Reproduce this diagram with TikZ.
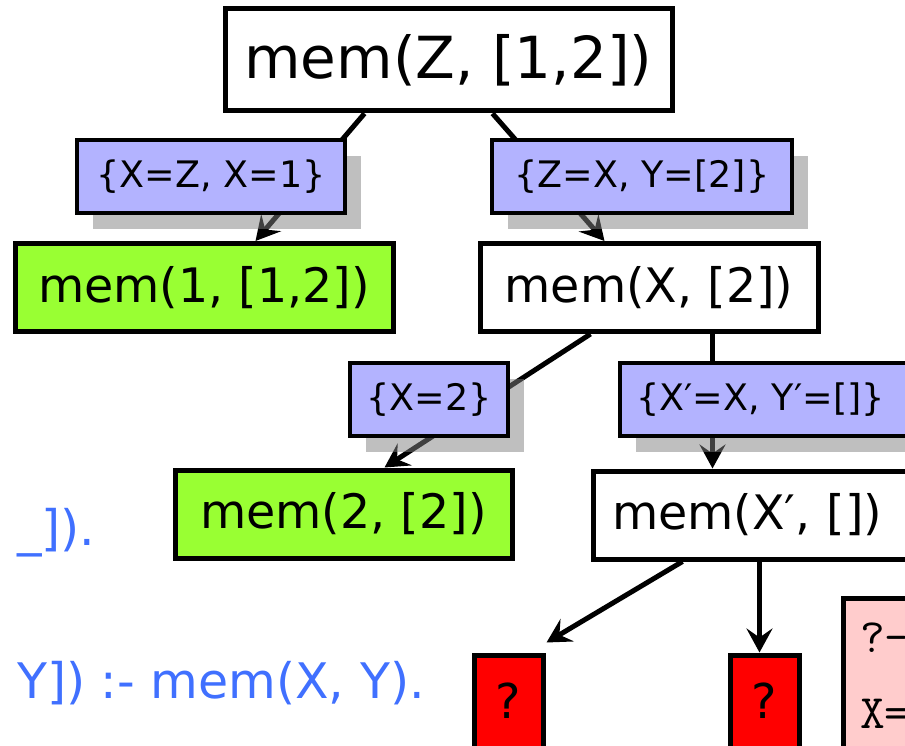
\documentclass[tikz,border=0pt]{standalone}
\usepackage{fontspec}
\setmainfont{DejaVu Sans}
\usetikzlibrary{arrows.meta, calc, shadows}
\definecolor{substBlue}{HTML}{B3B3FF}
\definecolor{solvedGreen}{HTML}{99FF33}
\definecolor{failRed}{HTML}{FF0000}
\definecolor{queryPink}{HTML}{FFCCCC}
\definecolor{clauseBlue}{HTML}{4070FF}

\begin{document}
\begin{tikzpicture}[
  x=1pt, y=-1pt,
  >={Stealth[length=24pt, width=26pt, inset=9pt]},
  goal/.style={draw=black, line width=5pt, fill=white, inner sep=0pt,
               minimum height=88pt, font=\fontsize{47.5}{56}\selectfont},
  solved/.style={goal, fill=solvedGreen},
  failed/.style={goal, fill=failRed, anchor=north, minimum width=69pt,
                 text height=63pt, text depth=45pt, font=\fontsize{48}{55}\selectfont},
  subst/.style={draw=black, line width=4.5pt, fill=substBlue, inner sep=0pt,
                minimum height=73pt, font=\fontsize{36.5}{42}\selectfont,
                drop shadow={shadow xshift=16pt, shadow yshift=-16pt}},
  query/.style={draw=black, line width=5pt, fill=queryPink, anchor=north west,
                minimum width=100pt, minimum height=200pt},
  code/.style={anchor=base west, inner sep=0pt, font=\ttfamily\fontsize{48}{55}\selectfont},
  clause/.style={anchor=base west, inner sep=0pt, text=clauseBlue,
                 font=\fontsize{49}{58}\selectfont},
  link/.style={->, line width=5pt}
]
\useasboundingbox (0,0) rectangle (905,746);
\clip (0,0) rectangle (905,746);

% program clauses, partly hidden on the left
\node[clause] (factTail) at (17,545) {\_]).};
\node[clause] (ruleTail) at (17,698) {Y]) :- mem(X, Y).};

% goals
\node[goal, minimum width=447pt, minimum height=102pt,
      font=\fontsize{58}{68}\selectfont] (memZ) at (448.5,60) {mem(Z, [1,2])};
\node[solved, minimum width=378pt] (memOne) at (204,287.5) {mem(1, [1,2])};
\node[goal, minimum width=338pt] (memX) at (649,287.5) {mem(X, [2])};
\node[solved, minimum width=337pt] (memTwo) at (343.5,514) {mem(2, [2])};
\node[goal, text width=290pt, align=left, inner xsep=19pt] (memXp) at (757,515) {mem(X′, [])};
\node[failed] (failOne) at (508.5,652.5) {?};
\node[failed] (failTwo) at (764.5,652.5) {?};

% the query window
\node[query] (query) at (840.5,595.5) {};
\node[code] (queryLine) at (860,652) {?-};
\node[code] (answerLine) at (860,728) {X=};

% resolution steps
\draw[link] ($(memZ.south west)+(142,0)$) -- ($(memOne.north west)+(243,0)$);
\draw[link] ($(memZ.south west)+(270,0)$) -- ($(memX.north west)+(127,0)$);
\draw[link] ($(memX.south west)+(113,0)$) -- ($(memTwo.north west)+(212,0)$);
\draw[link] ($(memX.south west)+(235,0)$) -- ($(memXp.north west)+(122,0)$);
\draw[link] ($(memXp.south west)+(92,0)$) -- ($(failOne.north east)+(1,-10)$);
\draw[link] ($(memXp.south west)+(169,0)$) -- ($(failTwo.north west)+(32,0)$);

% unifiers on the edges
\node[subst, minimum width=268pt] (subOne) at (211,176.5) {\{X=Z, X=1\}};
\node[subst, minimum width=300pt] (subTwo) at (642,176.5) {\{Z=X, Y=[2]\}};
\node[subst, minimum width=158pt] (subThree) at (429,399.5) {\{X=2\}};
\node[subst, text width=260pt, align=left, inner xsep=16pt] (subFour) at (766,399.5) {\{X′=X, Y′=[]\}};
\end{tikzpicture}
\end{document}
